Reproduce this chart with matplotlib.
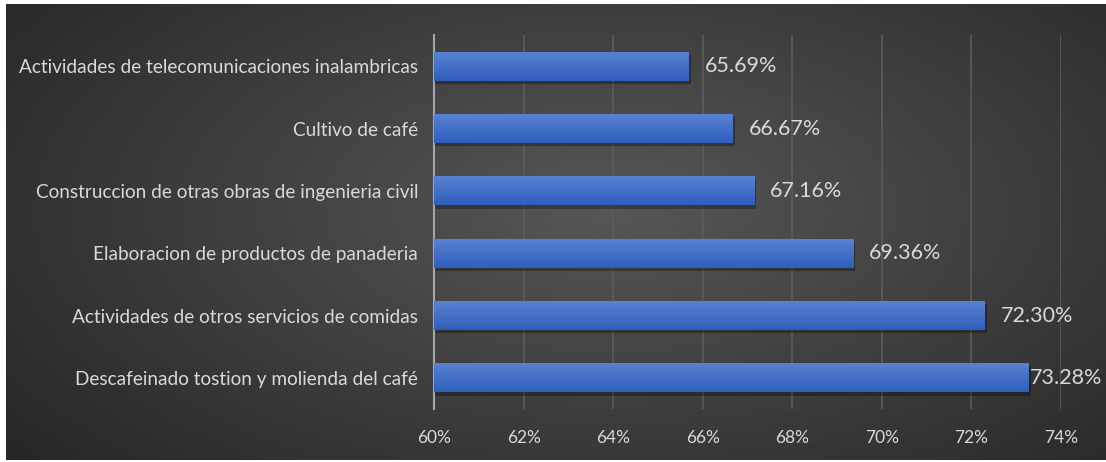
import numpy as np
import matplotlib
matplotlib.use("Agg")
import matplotlib.pyplot as plt
import matplotlib.ticker as mtick
from matplotlib.patches import Rectangle
from matplotlib.colors import LinearSegmentedColormap

categorias = [
    "Actividades de telecomunicaciones inalambricas",
    "Cultivo de café",
    "Construccion de otras obras de ingenieria civil",
    "Elaboracion de productos de panaderia",
    "Actividades de otros servicios de comidas",
    "Descafeinado tostion y molienda del café",
]
valores = [65.69, 66.67, 67.16, 69.36, 72.30, 73.28]
ticks_x = [60, 62, 64, 66, 68, 70, 72, 74]

plt.rcParams["font.family"] = ["Lato", "DejaVu Sans"]
texto = "#d9d9d9"

W, H = 1106, 462
fig = plt.figure(figsize=(W / 100, H / 100), dpi=100, facecolor="white")

# fondo oscuro con degradado radial
bg = fig.add_axes([6 / W, 2 / H, 1 - 6 / W, 1 - 6 / H])
bg.set_axis_off()
yy, xx = np.mgrid[0:1:300j, 0:1:600j]
r = np.sqrt(((xx - 0.55) / 0.75) ** 2 + ((yy - 0.45) / 0.9) ** 2)
shade = np.clip(0.34 - 0.2 * r, 0.13, 0.34)
bg.imshow(np.dstack([shade] * 3), aspect="auto", extent=[0, 1, 0, 1],
          interpolation="bicubic")
bg.set_xlim(0, 1)
bg.set_ylim(0, 1)

ax = fig.add_axes([434 / W, 1 - 409 / H, (1061 - 434) / W, (409 - 35) / H])
ax.patch.set_alpha(0)

y = np.arange(len(categorias))
alto = 0.47
grad = np.linspace(0, 1, 50).reshape(-1, 1)
cmap = LinearSegmentedColormap.from_list("barra", ["#5b82d2", "#2f5fbd"])

for yi, v in zip(y, valores):
    # sombra
    sombra = Rectangle((60, yi - alto / 2 + 0.05), v - 60 + 0.04, alto,
                       facecolor="black", alpha=0.3, edgecolor="none", zorder=2)
    ax.add_patch(sombra)
    rect = Rectangle((60, yi - alto / 2), v - 60, alto, facecolor="none",
                     edgecolor="none", zorder=3)
    ax.add_patch(rect)
    im = ax.imshow(grad, cmap=cmap, aspect="auto", zorder=3,
                   extent=[60, v, yi + alto / 2, yi - alto / 2])
    im.set_clip_path(rect)
    x_lab = min(v + 0.35, 73.3)
    ax.text(x_lab, yi, f"{v:.2f}%", va="center", ha="left", color=texto,
            fontsize=15.5, zorder=4)

ax.set_xlim(60, 74)
ax.set_ylim(len(categorias) - 0.5, -0.5)
ax.set_xticks(ticks_x)
ax.xaxis.set_major_formatter(mtick.FuncFormatter(lambda x, _: f"{x:.0f}%"))
ax.set_yticks(y)
ax.set_yticklabels(categorias)
ax.tick_params(axis="both", length=0, colors=texto)
ax.tick_params(axis="y", pad=11.5, labelsize=13.7)
ax.tick_params(axis="x", pad=15, labelsize=12.5)
ax.grid(axis="x", color="#5c5c5c", linewidth=1.2, zorder=0)
ax.set_axisbelow(True)
for s in ["top", "right", "bottom"]:
    ax.spines[s].set_visible(False)
ax.spines["left"].set_color("#a6a6a6")
ax.spines["left"].set_linewidth(1.5)

fig.savefig("out.png", dpi=100, facecolor="white")
